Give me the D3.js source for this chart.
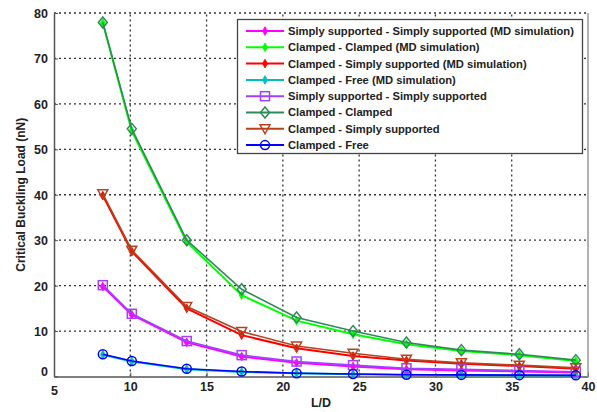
<!DOCTYPE html>
<html>
<head>
<meta charset="utf-8">
<script src="https://cdn.jsdelivr.net/npm/d3@7"></script>
<style>
  body { margin: 0; background: #fff; }
  svg text { font-family: Arial, "Liberation Sans", sans-serif; font-weight: bold; fill: #222; }
</style>
</head>
<body>
<svg id="chart" width="597" height="412"></svg>
<script>
// L/D values where each curve is sampled
const ratios = [8.2, 10.1, 13.7, 17.3, 20.9, 24.6, 28.1, 31.7, 35.5, 39.2];

// MD simulation results (nN)
const ssMD = [19.8, 13.6, 7.5, 4.4, 3.0, 2.2, 1.6, 1.3, 1.1, 0.9];
const ccMD = [77.8, 54.0, 29.6, 17.9, 12.3, 9.3, 7.1, 5.6, 4.7, 3.4];
const csMD = [39.8, 27.5, 15.0, 9.1, 6.2, 4.5, 3.5, 2.8, 2.3, 1.7];
const cfMD = [4.8, 3.3, 1.6, 1.0, 0.7, 0.5, 0.4, 0.3, 0.25, 0.2];

// analytical results (nN)
const ssTheory = [20.1, 13.8, 7.8, 4.7, 3.3, 2.5, 1.8, 1.6, 1.3, 1.05];
const ccTheory = [77.9, 54.5, 30.0, 19.2, 13.0, 10.0, 7.5, 5.8, 4.9, 3.6];
const csTheory = [40.2, 27.8, 15.4, 9.9, 6.7, 5.1, 3.8, 3.0, 2.5, 1.9];
const cfTheory = [4.9, 3.4, 1.7, 1.1, 0.7, 0.55, 0.4, 0.35, 0.3, 0.25];

const xTicks = [5, 10, 15, 20, 25, 30, 35, 40];
const yTicks = [0, 10, 20, 30, 40, 50, 60, 70, 80];

const series = [
    {name: "Simply supported - Simply supported (MD simulation)", values: ssMD, color: "#ff00ff", marker: "dot"},
    {name: "Clamped - Clamped (MD simulation)", values: ccMD, color: "#00ff00", marker: "dot"},
    {name: "Clamped - Simply supported (MD simulation)", values: csMD, color: "#ff0000", marker: "dot"},
    {name: "Clamped - Free (MD simulation)", values: cfMD, color: "#00bfbf", marker: "dot"},
    {name: "Simply supported - Simply supported", values: ssTheory, color: "#a040ff", marker: "square"},
    {name: "Clamped - Clamped", values: ccTheory, color: "#2e8b57", marker: "diamond"},
    {name: "Clamped - Simply supported", values: csTheory, color: "#b8421e", marker: "triangle"},
    {name: "Clamped - Free", values: cfTheory, color: "#0000ff", marker: "circle"}
];

const margins = {left: 54, right: 9, top: 13, bottom: 35.5};
const width = 597, height = 412;

const svg = d3.select("#chart");

const scaleX = d3.scaleLinear().domain([5, 40]).range([margins.left, width - margins.right]);
const scaleY = d3.scaleLinear().domain([0, 80]).range([height - margins.bottom, margins.top]);

// dotted grid
svg.append("g").selectAll("line").data(xTicks.slice(1, -1)).join("line")
    .attr("x1", d => scaleX(d)).attr("x2", d => scaleX(d))
    .attr("y1", scaleY(0)).attr("y2", scaleY(80))
    .attr("stroke", "#333").attr("stroke-width", 1.3).attr("stroke-dasharray", "2,3");
svg.append("g").selectAll("line").data(yTicks.slice(1)).join("line")
    .attr("x1", scaleX(5)).attr("x2", scaleX(40))
    .attr("y1", d => scaleY(d)).attr("y2", d => scaleY(d))
    .attr("stroke", "#333").attr("stroke-width", 1.3).attr("stroke-dasharray", "2,3");

// axes
const xAxis = d3.axisBottom(scaleX).tickValues(xTicks).tickSizeInner(-4).tickSizeOuter(0).tickPadding(8);
const yAxis = d3.axisLeft(scaleY).tickValues(yTicks).tickSizeInner(-4).tickSizeOuter(0).tickPadding(6);

const gx = svg.append("g").attr("transform", `translate(0, ${scaleY(0)})`).call(xAxis);
const gy = svg.append("g").attr("transform", `translate(${scaleX(5)}, 0)`).call(yAxis);
[gx, gy].forEach(g => {
    g.select(".domain").attr("stroke", "#555").attr("stroke-width", 1.5);
    g.selectAll(".tick line").attr("stroke", "#555");
    g.selectAll(".tick text").attr("font-size", 12.5).attr("font-weight", "bold")
        .attr("font-family", "Arial, 'Liberation Sans', sans-serif").attr("fill", "#222");
});
gx.selectAll(".tick text").attr("dy", "0.55em");
gy.selectAll(".tick text").attr("dy", "0.35em");
// matlab puts the lowest x label a bit lower
gx.selectAll(".tick").filter(d => d === 5).select("text").attr("dy", "0.85em");
gy.selectAll(".tick").filter(d => d === 0).select("text").attr("dy", "-0.05em");

// right frame
svg.append("line")
    .attr("x1", scaleX(40)).attr("x2", scaleX(40))
    .attr("y1", scaleY(0)).attr("y2", scaleY(80))
    .attr("stroke", "#888").attr("stroke-width", 1.3);

// axis titles
svg.append("text")
    .attr("x", (scaleX(5) + scaleX(40)) / 2).attr("y", 407)
    .attr("text-anchor", "middle").attr("font-size", 12.5)
    .text("L/D");
svg.append("text")
    .attr("transform", `translate(25, ${(scaleY(0) + scaleY(80)) / 2}) rotate(-90)`)
    .attr("text-anchor", "middle").attr("font-size", 12)
    .text("Critical Buckling Load (nN)");

function drawMarker(g, kind, color) {
    if (kind === "dot") {
        g.append("path").attr("d", d3.symbol(d3.symbolDiamond, 22)())
            .attr("fill", color).attr("stroke", color).attr("stroke-width", 0.8);
    } else if (kind === "square") {
        g.append("rect").attr("x", -4.5).attr("y", -4.5).attr("width", 9).attr("height", 9)
            .attr("fill", "none").attr("stroke", color).attr("stroke-width", 1.5);
    } else if (kind === "diamond") {
        g.append("path").attr("d", "M0,-5.5L4.5,0L0,5.5L-4.5,0Z")
            .attr("fill", "none").attr("stroke", color).attr("stroke-width", 1.5);
    } else if (kind === "triangle") {
        g.append("path").attr("d", "M-5,-4L5,-4L0,5Z")
            .attr("fill", "none").attr("stroke", color).attr("stroke-width", 1.5);
    } else {
        g.append("circle").attr("r", 4.5)
            .attr("fill", "none").attr("stroke", color).attr("stroke-width", 1.5);
    }
}

const line = d3.line().x((d, i) => scaleX(ratios[i])).y(d => scaleY(d));

series.forEach(s => {
    const g = svg.append("g");
    g.append("path").datum(s.values)
        .attr("d", line)
        .attr("fill", "none").attr("stroke", s.color)
        .attr("stroke-width", s.marker === "dot" ? 2 : 1.6);
    g.selectAll("g").data(s.values).join("g")
        .attr("transform", (d, i) => `translate(${scaleX(ratios[i])}, ${scaleY(d)})`)
        .each(function () { drawMarker(d3.select(this), s.marker, s.color); });
});

// legend
const legend = svg.append("g");
legend.append("rect")
    .attr("x", 237.5).attr("y", 19.5).attr("width", 345).attr("height", 134)
    .attr("fill", "#fff").attr("stroke", "#444").attr("stroke-width", 1.3);
series.forEach((s, i) => {
    const y = 31 + i * 16.3;
    const row = legend.append("g").attr("transform", `translate(0, ${y})`);
    row.append("line").attr("x1", 246).attr("x2", 284).attr("y1", 0).attr("y2", 0)
        .attr("stroke", s.color).attr("stroke-width", 2);
    drawMarker(row.append("g").attr("transform", "translate(265, 0)"), s.marker, s.color);
    row.append("text").attr("x", 288).attr("y", 0).attr("dy", "0.35em")
        .attr("font-size", 11.2).text(s.name);
});
</script>
</body>
</html>
